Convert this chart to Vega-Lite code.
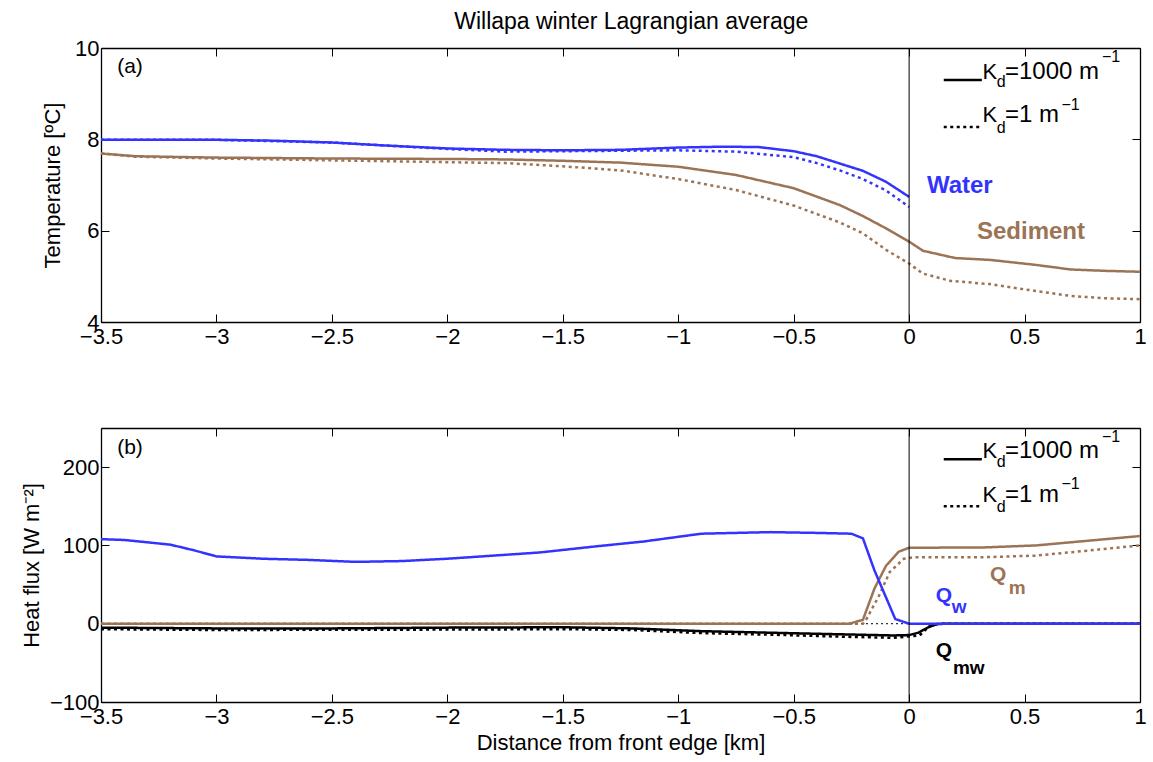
{
  "$schema": "https://vega.github.io/schema/vega-lite/v6.json",
  "background": "white",
  "padding": {"left": 20, "top": 11, "right": 5, "bottom": 5},
  "title": {"text": "Willapa winter Lagrangian average", "font": "Liberation Sans", "fontSize": 23, "fontWeight": "normal", "color": "black", "anchor": "middle", "offset": 3, "dx": 48},
  "config": {
    "font": "Liberation Sans",
    "view": {"stroke": null},
    "axis": {"domainColor": "black", "domainWidth": 1.3, "tickColor": "black", "tickWidth": 1, "tickSize": -8, "labelColor": "black", "labelFontSize": 22, "labelFont": "Liberation Sans", "titleFont": "Liberation Sans", "titleFontSize": 22, "titleFontWeight": "normal", "titleColor": "black", "grid": false, "labelPadding": 12, "labelFlush": false, "labelOverlap": false},
    "axisY": {"labelPadding": 10}
  },
  "datasets": {
    "temp": [
      {"var": "Water", "kd": "1000", "x": -3.5, "y": 7.99}, {"var": "Water", "kd": "1000", "x": -3.25, "y": 7.99}, {"var": "Water", "kd": "1000", "x": -3.0, "y": 7.99}, {"var": "Water", "kd": "1000", "x": -2.75, "y": 7.97}, {"var": "Water", "kd": "1000", "x": -2.5, "y": 7.93}, {"var": "Water", "kd": "1000", "x": -2.25, "y": 7.86}, {"var": "Water", "kd": "1000", "x": -2.0, "y": 7.80}, {"var": "Water", "kd": "1000", "x": -1.75, "y": 7.77}, {"var": "Water", "kd": "1000", "x": -1.5, "y": 7.76}, {"var": "Water", "kd": "1000", "x": -1.25, "y": 7.77}, {"var": "Water", "kd": "1000", "x": -1.0, "y": 7.82}, {"var": "Water", "kd": "1000", "x": -0.8, "y": 7.84}, {"var": "Water", "kd": "1000", "x": -0.65, "y": 7.83}, {"var": "Water", "kd": "1000", "x": -0.5, "y": 7.74}, {"var": "Water", "kd": "1000", "x": -0.4, "y": 7.63}, {"var": "Water", "kd": "1000", "x": -0.3, "y": 7.47}, {"var": "Water", "kd": "1000", "x": -0.2, "y": 7.31}, {"var": "Water", "kd": "1000", "x": -0.1, "y": 7.07}, {"var": "Water", "kd": "1000", "x": 0, "y": 6.74},
      {"var": "Water", "kd": "1", "x": -3.5, "y": 7.99}, {"var": "Water", "kd": "1", "x": -3.0, "y": 7.99}, {"var": "Water", "kd": "1", "x": -2.5, "y": 7.93}, {"var": "Water", "kd": "1", "x": -2.25, "y": 7.86}, {"var": "Water", "kd": "1", "x": -2.0, "y": 7.79}, {"var": "Water", "kd": "1", "x": -1.75, "y": 7.73}, {"var": "Water", "kd": "1", "x": -1.5, "y": 7.74}, {"var": "Water", "kd": "1", "x": -1.25, "y": 7.75}, {"var": "Water", "kd": "1", "x": -1.0, "y": 7.76}, {"var": "Water", "kd": "1", "x": -0.75, "y": 7.73}, {"var": "Water", "kd": "1", "x": -0.5, "y": 7.61}, {"var": "Water", "kd": "1", "x": -0.4, "y": 7.48}, {"var": "Water", "kd": "1", "x": -0.3, "y": 7.32}, {"var": "Water", "kd": "1", "x": -0.2, "y": 7.13}, {"var": "Water", "kd": "1", "x": -0.1, "y": 6.88}, {"var": "Water", "kd": "1", "x": 0, "y": 6.52},
      {"var": "Sediment", "kd": "1000", "x": -3.5, "y": 7.69}, {"var": "Sediment", "kd": "1000", "x": -3.35, "y": 7.63}, {"var": "Sediment", "kd": "1000", "x": -3.0, "y": 7.60}, {"var": "Sediment", "kd": "1000", "x": -2.5, "y": 7.58}, {"var": "Sediment", "kd": "1000", "x": -2.0, "y": 7.57}, {"var": "Sediment", "kd": "1000", "x": -1.75, "y": 7.56}, {"var": "Sediment", "kd": "1000", "x": -1.5, "y": 7.53}, {"var": "Sediment", "kd": "1000", "x": -1.25, "y": 7.49}, {"var": "Sediment", "kd": "1000", "x": -1.0, "y": 7.40}, {"var": "Sediment", "kd": "1000", "x": -0.75, "y": 7.22}, {"var": "Sediment", "kd": "1000", "x": -0.5, "y": 6.93}, {"var": "Sediment", "kd": "1000", "x": -0.3, "y": 6.56}, {"var": "Sediment", "kd": "1000", "x": -0.2, "y": 6.32}, {"var": "Sediment", "kd": "1000", "x": -0.1, "y": 6.05}, {"var": "Sediment", "kd": "1000", "x": 0, "y": 5.76}, {"var": "Sediment", "kd": "1000", "x": 0.06, "y": 5.56}, {"var": "Sediment", "kd": "1000", "x": 0.2, "y": 5.40}, {"var": "Sediment", "kd": "1000", "x": 0.35, "y": 5.36}, {"var": "Sediment", "kd": "1000", "x": 0.55, "y": 5.25}, {"var": "Sediment", "kd": "1000", "x": 0.7, "y": 5.15}, {"var": "Sediment", "kd": "1000", "x": 0.85, "y": 5.12}, {"var": "Sediment", "kd": "1000", "x": 1.0, "y": 5.10},
      {"var": "Sediment", "kd": "1", "x": -3.5, "y": 7.69}, {"var": "Sediment", "kd": "1", "x": -3.35, "y": 7.62}, {"var": "Sediment", "kd": "1", "x": -3.0, "y": 7.58}, {"var": "Sediment", "kd": "1", "x": -2.5, "y": 7.54}, {"var": "Sediment", "kd": "1", "x": -2.0, "y": 7.50}, {"var": "Sediment", "kd": "1", "x": -1.75, "y": 7.48}, {"var": "Sediment", "kd": "1", "x": -1.5, "y": 7.41}, {"var": "Sediment", "kd": "1", "x": -1.25, "y": 7.32}, {"var": "Sediment", "kd": "1", "x": -1.0, "y": 7.13}, {"var": "Sediment", "kd": "1", "x": -0.75, "y": 6.89}, {"var": "Sediment", "kd": "1", "x": -0.5, "y": 6.55}, {"var": "Sediment", "kd": "1", "x": -0.3, "y": 6.18}, {"var": "Sediment", "kd": "1", "x": -0.2, "y": 5.94}, {"var": "Sediment", "kd": "1", "x": -0.1, "y": 5.58}, {"var": "Sediment", "kd": "1", "x": 0, "y": 5.28}, {"var": "Sediment", "kd": "1", "x": 0.06, "y": 5.06}, {"var": "Sediment", "kd": "1", "x": 0.18, "y": 4.90}, {"var": "Sediment", "kd": "1", "x": 0.35, "y": 4.83}, {"var": "Sediment", "kd": "1", "x": 0.52, "y": 4.70}, {"var": "Sediment", "kd": "1", "x": 0.7, "y": 4.57}, {"var": "Sediment", "kd": "1", "x": 0.85, "y": 4.52}, {"var": "Sediment", "kd": "1", "x": 1.0, "y": 4.50}
    ],
    "flux": [
      {"var": "Qmw", "kd": "1000", "x": -3.5, "y": -5}, {"var": "Qmw", "kd": "1000", "x": -3.0, "y": -6}, {"var": "Qmw", "kd": "1000", "x": -2.5, "y": -6}, {"var": "Qmw", "kd": "1000", "x": -2.0, "y": -5}, {"var": "Qmw", "kd": "1000", "x": -1.5, "y": -4.5}, {"var": "Qmw", "kd": "1000", "x": -1.2, "y": -6}, {"var": "Qmw", "kd": "1000", "x": -0.9, "y": -9.5}, {"var": "Qmw", "kd": "1000", "x": -0.6, "y": -11.5}, {"var": "Qmw", "kd": "1000", "x": -0.3, "y": -13.5}, {"var": "Qmw", "kd": "1000", "x": -0.07, "y": -15}, {"var": "Qmw", "kd": "1000", "x": 0, "y": -14.5}, {"var": "Qmw", "kd": "1000", "x": 0.04, "y": -11.5}, {"var": "Qmw", "kd": "1000", "x": 0.08, "y": -5}, {"var": "Qmw", "kd": "1000", "x": 0.12, "y": -0.5}, {"var": "Qmw", "kd": "1000", "x": 0.16, "y": 0}, {"var": "Qmw", "kd": "1000", "x": 1.0, "y": 0},
      {"var": "Qmw", "kd": "1", "x": -3.5, "y": -7}, {"var": "Qmw", "kd": "1", "x": -3.0, "y": -8}, {"var": "Qmw", "kd": "1", "x": -2.0, "y": -7.5}, {"var": "Qmw", "kd": "1", "x": -1.5, "y": -7}, {"var": "Qmw", "kd": "1", "x": -1.2, "y": -8}, {"var": "Qmw", "kd": "1", "x": -0.9, "y": -12}, {"var": "Qmw", "kd": "1", "x": -0.6, "y": -14}, {"var": "Qmw", "kd": "1", "x": -0.3, "y": -16.5}, {"var": "Qmw", "kd": "1", "x": -0.07, "y": -18}, {"var": "Qmw", "kd": "1", "x": 0.045, "y": -15}, {"var": "Qmw", "kd": "1", "x": 0.09, "y": -2.5}, {"var": "Qmw", "kd": "1", "x": 0.13, "y": 0}, {"var": "Qmw", "kd": "1", "x": 1.0, "y": 0},
      {"var": "Qm", "kd": "1", "x": -3.5, "y": 0}, {"var": "Qm", "kd": "1", "x": -0.2, "y": 0}, {"var": "Qm", "kd": "1", "x": -0.19, "y": 3}, {"var": "Qm", "kd": "1", "x": -0.13, "y": 36}, {"var": "Qm", "kd": "1", "x": -0.084, "y": 66}, {"var": "Qm", "kd": "1", "x": -0.023, "y": 83}, {"var": "Qm", "kd": "1", "x": 0.02, "y": 85}, {"var": "Qm", "kd": "1", "x": 0.33, "y": 85}, {"var": "Qm", "kd": "1", "x": 0.55, "y": 87}, {"var": "Qm", "kd": "1", "x": 0.78, "y": 93.6}, {"var": "Qm", "kd": "1", "x": 1.0, "y": 100},
      {"var": "Qm", "kd": "1000", "x": -3.5, "y": 0}, {"var": "Qm", "kd": "1000", "x": -0.26, "y": 0}, {"var": "Qm", "kd": "1000", "x": -0.2, "y": 5}, {"var": "Qm", "kd": "1000", "x": -0.15, "y": 45}, {"var": "Qm", "kd": "1000", "x": -0.1, "y": 74}, {"var": "Qm", "kd": "1000", "x": -0.045, "y": 92}, {"var": "Qm", "kd": "1000", "x": 0, "y": 97}, {"var": "Qm", "kd": "1000", "x": 0.33, "y": 97.5}, {"var": "Qm", "kd": "1000", "x": 0.55, "y": 100}, {"var": "Qm", "kd": "1000", "x": 0.7, "y": 104}, {"var": "Qm", "kd": "1000", "x": 0.85, "y": 108}, {"var": "Qm", "kd": "1000", "x": 1.0, "y": 112},
      {"var": "Qw", "kd": "1000", "x": -3.5, "y": 108}, {"var": "Qw", "kd": "1000", "x": -3.4, "y": 107}, {"var": "Qw", "kd": "1000", "x": -3.3, "y": 104}, {"var": "Qw", "kd": "1000", "x": -3.2, "y": 101}, {"var": "Qw", "kd": "1000", "x": -3.1, "y": 94}, {"var": "Qw", "kd": "1000", "x": -3.0, "y": 86}, {"var": "Qw", "kd": "1000", "x": -2.8, "y": 83}, {"var": "Qw", "kd": "1000", "x": -2.6, "y": 81.5}, {"var": "Qw", "kd": "1000", "x": -2.4, "y": 79}, {"var": "Qw", "kd": "1000", "x": -2.2, "y": 80}, {"var": "Qw", "kd": "1000", "x": -2.0, "y": 83}, {"var": "Qw", "kd": "1000", "x": -1.8, "y": 87}, {"var": "Qw", "kd": "1000", "x": -1.6, "y": 91}, {"var": "Qw", "kd": "1000", "x": -1.35, "y": 99}, {"var": "Qw", "kd": "1000", "x": -1.15, "y": 105}, {"var": "Qw", "kd": "1000", "x": -0.9, "y": 115}, {"var": "Qw", "kd": "1000", "x": -0.6, "y": 117}, {"var": "Qw", "kd": "1000", "x": -0.4, "y": 116}, {"var": "Qw", "kd": "1000", "x": -0.25, "y": 115}, {"var": "Qw", "kd": "1000", "x": -0.2, "y": 109}, {"var": "Qw", "kd": "1000", "x": -0.15, "y": 68}, {"var": "Qw", "kd": "1000", "x": -0.06, "y": 6}, {"var": "Qw", "kd": "1000", "x": 0, "y": 0}, {"var": "Qw", "kd": "1000", "x": 1.0, "y": 0}
    ]
  },
  "bounds": "flush",
  "spacing": 106,
  "vconcat": [
    {
      "width": 1039, "height": 274,
      "resolve": {"axis": {"x": "independent", "y": "independent"}},
      "layer": [
        {
          "data": {"name": "temp"},
          "mark": {"type": "line", "strokeWidth": 2.5},
          "encoding": {
            "x": {"field": "x", "type": "quantitative", "scale": {"domain": [-3.5, 1], "nice": false, "zero": false},
                  "axis": {"orient": "bottom", "values": [-3.5, -3, -2.5, -2, -1.5, -1, -0.5, 0, 0.5, 1], "format": "~g", "title": null}},
            "y": {"field": "y", "type": "quantitative", "scale": {"domain": [4, 10], "nice": false, "zero": false},
                  "axis": {"orient": "left", "values": [4, 6, 8, 10], "title": "Temperature [ºC]", "titlePadding": 10}},
            "color": {"field": "var", "type": "nominal", "scale": {"domain": ["Water", "Sediment", "Qw", "Qm", "Qmw"], "range": ["#3333ff", "#9b7355", "#3333ff", "#9b7355", "#000000"]}, "legend": null},
            "strokeDash": {"field": "kd", "type": "nominal", "scale": {"domain": ["1000", "1"], "range": [[1, 0], [3, 3.5]]}, "legend": null}
          }
        },
        {
          "data": {"values": [{"x": 0}]},
          "mark": {"type": "rule", "color": "black", "strokeWidth": 1},
          "encoding": {"x": {"field": "x", "type": "quantitative", "axis": null}}
        },
        {
          "data": {"values": [{"x": 0.15, "x2": 0.315, "y": 9.30, "kd": "1000"}, {"x": 0.15, "x2": 0.315, "y": 8.27, "kd": "1"}]},
          "mark": {"type": "rule", "color": "black", "strokeWidth": 2.5},
          "encoding": {
            "x": {"field": "x", "type": "quantitative", "axis": {"orient": "top", "values": [-3.5, -3, -2.5, -2, -1.5, -1, -0.5, 0, 0.5, 1], "labels": false, "title": null}},
            "x2": {"field": "x2"},
            "y": {"field": "y", "type": "quantitative", "axis": {"orient": "right", "values": [4, 6, 8, 10], "labels": false, "title": null}},
            "strokeDash": {"field": "kd", "type": "nominal", "scale": {"domain": ["1000", "1"], "range": [[1, 0], [3, 3.5]]}, "legend": null}
          }
        },
        {
          "data": {"values": [{"x": -3.43, "y": 9.58, "t": "(a)"}]},
          "mark": {"type": "text", "align": "left", "baseline": "middle", "fontSize": 21, "color": "black"},
          "encoding": {"x": {"field": "x", "type": "quantitative", "axis": null}, "y": {"field": "y", "type": "quantitative", "axis": null}, "text": {"field": "t"}}
        },
        {
          "data": {"values": [{"x": 0.077, "y": 6.98, "t": "Water", "var": "Water"}, {"x": 0.294, "y": 5.97, "t": "Sediment", "var": "Sediment"}]},
          "mark": {"type": "text", "align": "left", "baseline": "middle", "fontSize": 24, "fontWeight": "bold"},
          "encoding": {"x": {"field": "x", "type": "quantitative", "axis": null}, "y": {"field": "y", "type": "quantitative", "axis": null}, "text": {"field": "t"},
            "color": {"field": "var", "type": "nominal", "scale": {"domain": ["Water", "Sediment", "Qw", "Qm", "Qmw"], "range": ["#3333ff", "#9b7355", "#3333ff", "#9b7355", "#000000"]}, "legend": null}}
        },
        {
          "data": {"values": [{"x": 0.318, "y": 9.47, "t": "K"}, {"x": 0.318, "y": 8.53, "t": "K"}]},
          "mark": {"type": "text", "align": "left", "baseline": "middle", "fontSize": 22, "color": "black"},
          "encoding": {"x": {"field": "x", "type": "quantitative", "axis": null}, "y": {"field": "y", "type": "quantitative", "axis": null}, "text": {"field": "t"}}
        },
        {
          "data": {"values": [{"x": 0.415, "y": 9.47, "t": "=1000 m"}, {"x": 0.415, "y": 8.53, "t": "=1 m"}]},
          "mark": {"type": "text", "align": "left", "baseline": "middle", "fontSize": 24, "color": "black"},
          "encoding": {"x": {"field": "x", "type": "quantitative", "axis": null}, "y": {"field": "y", "type": "quantitative", "axis": null}, "text": {"field": "t"}}
        },
        {
          "data": {"values": [{"x": 0.38, "y": 9.26, "t": "d"}, {"x": 0.38, "y": 8.25, "t": "d"}, {"x": 0.835, "y": 9.80, "t": "−1"}, {"x": 0.66, "y": 8.75, "t": "−1"}]},
          "mark": {"type": "text", "align": "left", "baseline": "middle", "fontSize": 16, "color": "black"},
          "encoding": {"x": {"field": "x", "type": "quantitative", "axis": null}, "y": {"field": "y", "type": "quantitative", "axis": null}, "text": {"field": "t"}}
        }
      ]
    },
    {
      "width": 1039, "height": 274,
      "resolve": {"axis": {"x": "independent", "y": "independent"}},
      "layer": [
        {
          "data": {"values": [{"x": -3.5, "y": 0}, {"x": 0, "y": 0}]},
          "mark": {"type": "line", "color": "black", "strokeWidth": 1, "strokeDash": [2, 3]},
          "encoding": {"x": {"field": "x", "type": "quantitative", "axis": null}, "y": {"field": "y", "type": "quantitative", "axis": null}}
        },
        {
          "data": {"name": "flux"},
          "mark": {"type": "line", "strokeWidth": 2.5},
          "encoding": {
            "x": {"field": "x", "type": "quantitative", "scale": {"domain": [-3.5, 1], "nice": false, "zero": false},
                  "axis": {"orient": "bottom", "values": [-3.5, -3, -2.5, -2, -1.5, -1, -0.5, 0, 0.5, 1], "format": "~g", "title": "Distance from front edge [km]", "titlePadding": 5}},
            "y": {"field": "y", "type": "quantitative", "scale": {"domain": [-100, 250], "nice": false, "zero": false},
                  "axis": {"orient": "left", "values": [-100, 0, 100, 200], "title": "Heat flux [W m⁻²]", "titlePadding": 6}},
            "color": {"field": "var", "type": "nominal", "scale": {"domain": ["Water", "Sediment", "Qw", "Qm", "Qmw"], "range": ["#3333ff", "#9b7355", "#3333ff", "#9b7355", "#000000"]}, "legend": null},
            "strokeDash": {"field": "kd", "type": "nominal", "scale": {"domain": ["1000", "1"], "range": [[1, 0], [3, 3.5]]}, "legend": null}
          }
        },
        {
          "data": {"values": [{"x": 0}]},
          "mark": {"type": "rule", "color": "black", "strokeWidth": 1},
          "encoding": {"x": {"field": "x", "type": "quantitative", "axis": null}}
        },
        {
          "data": {"values": [{"x": 0.15, "x2": 0.315, "y": 210, "kd": "1000"}, {"x": 0.15, "x2": 0.315, "y": 150, "kd": "1"}]},
          "mark": {"type": "rule", "color": "black", "strokeWidth": 2.5},
          "encoding": {
            "x": {"field": "x", "type": "quantitative", "axis": {"orient": "top", "values": [-3.5, -3, -2.5, -2, -1.5, -1, -0.5, 0, 0.5, 1], "labels": false, "title": null}},
            "x2": {"field": "x2"},
            "y": {"field": "y", "type": "quantitative", "axis": {"orient": "right", "values": [-100, 0, 100, 200], "labels": false, "title": null}},
            "strokeDash": {"field": "kd", "type": "nominal", "scale": {"domain": ["1000", "1"], "range": [[1, 0], [3, 3.5]]}, "legend": null}
          }
        },
        {
          "data": {"values": [{"x": -3.43, "y": 225, "t": "(b)"}]},
          "mark": {"type": "text", "align": "left", "baseline": "middle", "fontSize": 21, "color": "black"},
          "encoding": {"x": {"field": "x", "type": "quantitative", "axis": null}, "y": {"field": "y", "type": "quantitative", "axis": null}, "text": {"field": "t"}}
        },
        {
          "data": {"values": [{"x": 0.115, "y": 36, "t": "Q", "var": "Qw"}, {"x": 0.35, "y": 62, "t": "Q", "var": "Qm"}, {"x": 0.115, "y": -35, "t": "Q", "var": "Qmw"}]},
          "mark": {"type": "text", "align": "left", "baseline": "middle", "fontSize": 21, "fontWeight": "bold"},
          "encoding": {"x": {"field": "x", "type": "quantitative", "axis": null}, "y": {"field": "y", "type": "quantitative", "axis": null}, "text": {"field": "t"},
            "color": {"field": "var", "type": "nominal", "scale": {"domain": ["Water", "Sediment", "Qw", "Qm", "Qmw"], "range": ["#3333ff", "#9b7355", "#3333ff", "#9b7355", "#000000"]}, "legend": null}}
        },
        {
          "data": {"values": [{"x": 0.185, "y": 21, "t": "w", "var": "Qw"}, {"x": 0.432, "y": 45, "t": "m", "var": "Qm"}, {"x": 0.19, "y": -56, "t": "mw", "var": "Qmw"}]},
          "mark": {"type": "text", "align": "left", "baseline": "middle", "fontSize": 19, "fontWeight": "bold"},
          "encoding": {"x": {"field": "x", "type": "quantitative", "axis": null}, "y": {"field": "y", "type": "quantitative", "axis": null}, "text": {"field": "t"},
            "color": {"field": "var", "type": "nominal", "scale": {"domain": ["Water", "Sediment", "Qw", "Qm", "Qmw"], "range": ["#3333ff", "#9b7355", "#3333ff", "#9b7355", "#000000"]}, "legend": null}}
        },
        {
          "data": {"values": [{"x": 0.318, "y": 220, "t": "K"}, {"x": 0.318, "y": 165, "t": "K"}]},
          "mark": {"type": "text", "align": "left", "baseline": "middle", "fontSize": 22, "color": "black"},
          "encoding": {"x": {"field": "x", "type": "quantitative", "axis": null}, "y": {"field": "y", "type": "quantitative", "axis": null}, "text": {"field": "t"}}
        },
        {
          "data": {"values": [{"x": 0.415, "y": 220, "t": "=1000 m"}, {"x": 0.415, "y": 165, "t": "=1 m"}]},
          "mark": {"type": "text", "align": "left", "baseline": "middle", "fontSize": 24, "color": "black"},
          "encoding": {"x": {"field": "x", "type": "quantitative", "axis": null}, "y": {"field": "y", "type": "quantitative", "axis": null}, "text": {"field": "t"}}
        },
        {
          "data": {"values": [{"x": 0.38, "y": 207, "t": "d"}, {"x": 0.38, "y": 149, "t": "d"}, {"x": 0.835, "y": 239, "t": "−1"}, {"x": 0.66, "y": 178, "t": "−1"}]},
          "mark": {"type": "text", "align": "left", "baseline": "middle", "fontSize": 16, "color": "black"},
          "encoding": {"x": {"field": "x", "type": "quantitative", "axis": null}, "y": {"field": "y", "type": "quantitative", "axis": null}, "text": {"field": "t"}}
        }
      ]
    }
  ]
}
